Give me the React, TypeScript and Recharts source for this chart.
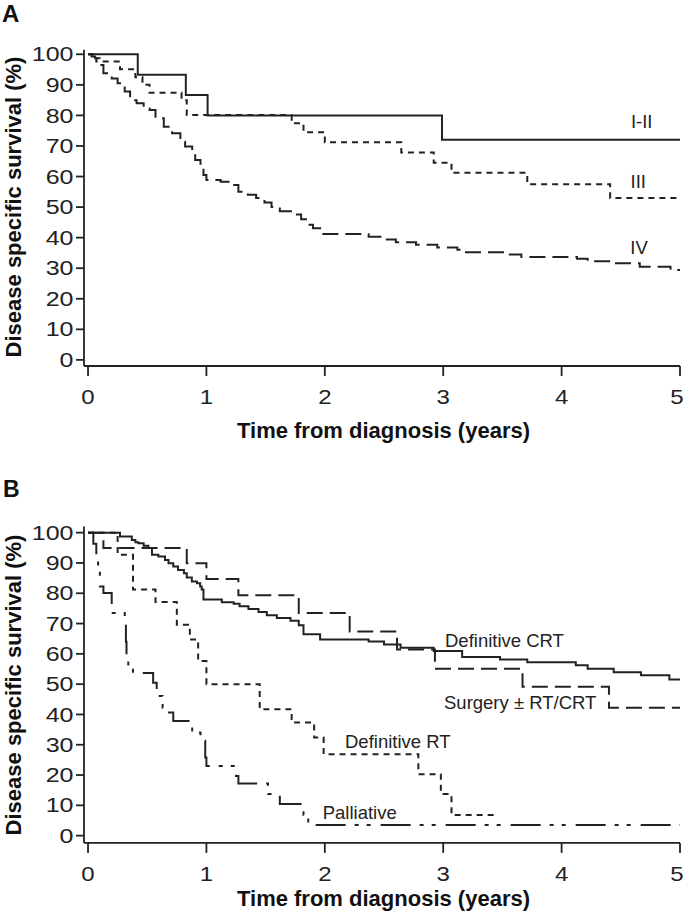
import React from 'react';
import { LineChart, Line, XAxis, YAxis } from 'recharts';

// Panel A: survival by stage (time in years, survival in %)
const stageI_II_t = [0, 0.42, 0.826, 1.01, 2.99, 5];
const stageI_II_s = [100, 93.3, 86.7, 80, 72, 72];

const stageIII_t = [0, 0.07, 0.27, 0.4, 0.46, 0.52, 0.79, 0.834, 1.72, 1.82, 2.0, 2.646, 2.92, 3.07, 3.71, 4.41, 5];
const stageIII_s = [100, 97.6, 95.1, 92.5, 90.0, 87.4, 85.0, 80.1, 77.4, 74.5, 71.2, 67.9, 64.5, 61.2, 57.5, 53.0, 53.0];

const stageIV_t = [0, 0.03, 0.06, 0.1, 0.13, 0.2, 0.25, 0.31, 0.355, 0.41, 0.47, 0.52, 0.57, 0.64, 0.71, 0.78, 0.82, 0.88, 0.905, 0.95, 0.975, 1.0, 1.12, 1.22, 1.27, 1.35, 1.42, 1.49, 1.55, 1.62, 1.74, 1.8, 1.85, 1.9, 1.97, 2.37, 2.47, 2.6, 2.77, 2.95, 3.12, 3.16, 3.52, 3.66, 4.13, 4.22, 4.43, 4.66, 4.92, 5];
const stageIV_s = [100, 99.3, 98.7, 96.5, 93.8, 92.1, 90.5, 87.8, 85.0, 84.0, 82.3, 81.8, 79.1, 76.3, 74.2, 71.4, 69.8, 68.1, 65.4, 63.2, 60.5, 58.9, 58.3, 57.2, 55.0, 54.0, 53.0, 51.5, 50.0, 48.6, 47.6, 46.0, 44.2, 43.1, 41.2, 40.3, 39.4, 38.5, 37.7, 36.8, 36.0, 35.2, 34.5, 33.7, 33.1, 32.3, 31.6, 30.5, 29.4, 29.4];

// Panel B: survival by treatment
const crt_t = [0, 0.27, 0.37, 0.4, 0.425, 0.47, 0.51, 0.54, 0.594, 0.65, 0.68, 0.72, 0.76, 0.81, 0.834, 0.877, 0.92, 0.947, 0.96, 0.975, 1.13, 1.23, 1.28, 1.355, 1.44, 1.51, 1.595, 1.71, 1.78, 1.82, 1.96, 2.37, 2.5, 2.64, 2.92, 3.16, 3.48, 3.71, 4.12, 4.22, 4.44, 4.67, 4.91, 5];
const crt_s = [100, 98.7, 97.6, 96.8, 96.5, 95.7, 94.9, 92.7, 92.1, 91.0, 89.9, 88.8, 87.7, 86.6, 85.2, 83.9, 83.3, 82.2, 81.2, 77.9, 77.0, 76.5, 75.7, 74.8, 73.8, 72.7, 71.8, 70.9, 69.4, 66.5, 64.7, 64.1, 63.1, 62.0, 60.9, 59.0, 58.1, 57.2, 56.2, 55.1, 53.9, 52.9, 51.5, 51.5];

const surgery_t = [0, 0.13, 0.834, 1.0, 1.27, 1.78, 2.21, 2.61, 2.93, 3.67, 4.4, 5];
const surgery_s = [100, 94.9, 89.9, 84.7, 79.3, 73.5, 67.4, 61.4, 55.1, 49.1, 42.2, 42.2];

const rt_t = [0, 0.25, 0.38, 0.57, 0.75, 0.86, 0.93, 1.0, 1.45, 1.72, 1.91, 1.99, 2.79, 2.98, 3.07, 3.44];
const rt_s = [100, 92.7, 81.2, 77.1, 69.6, 64.7, 57.6, 50.0, 41.7, 37.3, 32.4, 26.9, 20.3, 13.7, 6.8, 6.8];

const pall_t = [0, 0.045, 0.07, 0.085, 0.1, 0.13, 0.2, 0.31, 0.32, 0.325, 0.34, 0.38, 0.55, 0.58, 0.63, 0.65, 0.72, 0.88, 0.95, 0.99, 1.0, 1.25, 1.27, 1.52, 1.62, 1.82, 1.86, 5];
const pall_s = [100, 96.3, 92.6, 88.9, 82.2, 80.1, 73.5, 70.7, 64.0, 58.7, 55.4, 53.7, 50.5, 46.1, 42.2, 40.6, 37.8, 34.0, 31.3, 25.8, 23.0, 19.7, 17.2, 13.7, 10.4, 6.8, 3.5, 3.5];

const xTicks = [0, 1, 2, 3, 4, 5];
const yTicks = [0, 10, 20, 30, 40, 50, 60, 70, 80, 90, 100];

const toPoints = (t: number[], s: number[]) => t.map((v, i) => ({ t: v, s: s[i] }));

const INK = '#222';
const FONT = '"Liberation Sans", Arial, sans-serif';

const SHORT_DASH = '6 5';
const LONG_DASH = '16 7';
const DASH_DOT = '30 9 4 8 4 10';

// tick numbers in the original are drawn wide, so stretch them a bit
const XTick = ({ x, y, payload }: any) => (
  <text
    // keep the last label inside the page edge
    transform={`translate(${payload.value === 5 ? x - 3 : x},${y}) scale(1.2,1)`}
    textAnchor="middle"
    dy="0.71em"
    fill={INK}
    fontSize={20}
    fontFamily={FONT}
  >
    {payload.value}
  </text>
);

const YTick = ({ x, y, payload }: any) => (
  <text
    transform={`translate(${x},${y}) scale(1.25,1)`}
    textAnchor="end"
    dy="0.355em"
    fill={INK}
    fontSize={20}
    fontFamily={FONT}
  >
    {payload.value}
  </text>
);

type Series = { t: number[]; s: number[]; dash?: string };

const Panel = ({ series, top, yDomain }: { series: Series[]; top: number; yDomain: [number, number] }) => (
  <LineChart width={685} height={457} margin={{ top, right: 5, left: 0, bottom: 0 }}>
    <XAxis
      type="number"
      dataKey="t"
      domain={[-0.034, 5]}
      ticks={xTicks}
      allowDataOverflow
      height={457 - top - 316.3}
      tickSize={10}
      tickMargin={13.5}
      axisLine={{ stroke: INK, strokeWidth: 1.8 }}
      tickLine={{ stroke: INK, strokeWidth: 1.8 }}
      tick={<XTick />}
    />
    <YAxis
      type="number"
      domain={yDomain}
      ticks={yTicks}
      allowDataOverflow
      width={84}
      tickSize={8}
      tickMargin={2.5}
      axisLine={{ stroke: INK, strokeWidth: 1.8 }}
      tickLine={{ stroke: INK, strokeWidth: 1.8 }}
      tick={<YTick />}
    />
    {series.map((sr, i) => (
      <Line
        key={i}
        data={toPoints(sr.t, sr.s)}
        dataKey="s"
        type="stepAfter"
        stroke={INK}
        strokeWidth={2}
        strokeDasharray={sr.dash}
        dot={false}
        activeDot={false}
        isAnimationActive={false}
      />
    ))}
  </LineChart>
);

const App = () => {
  const labelStyle = { fontFamily: FONT, fontSize: 18.5, fill: INK };
  const titleStyle = { fontFamily: FONT, fontSize: 22, fontWeight: 'bold' as const, fill: '#111' };
  return (
    <div style={{ position: 'absolute', left: 0, top: 0, width: 685, height: 914, background: '#fff' }}>
      <div style={{ position: 'absolute', left: 0, top: 0 }}>
        <Panel
          top={49.7}
          yDomain={[-2, 101.5]}
          series={[
            { t: stageI_II_t, s: stageI_II_s },
            { t: stageIII_t, s: stageIII_s, dash: SHORT_DASH },
            { t: stageIV_t, s: stageIV_s, dash: LONG_DASH },
          ]}
        />
      </div>
      <div style={{ position: 'absolute', left: 0, top: 457 }}>
        <Panel
          top={69.6}
          yDomain={[-2.4, 102]}
          series={[
            { t: crt_t, s: crt_s },
            { t: surgery_t, s: surgery_s, dash: LONG_DASH },
            { t: rt_t, s: rt_s, dash: SHORT_DASH },
            { t: pall_t, s: pall_s, dash: DASH_DOT },
          ]}
        />
      </div>
      <svg width={685} height={914} style={{ position: 'absolute', left: 0, top: 0, pointerEvents: 'none' }}>
        <text x={2} y={22} style={{ ...titleStyle, fontSize: 24 }}>A</text>
        <text x={3} y={497} style={{ ...titleStyle, fontSize: 23 }}>B</text>

        <text x={20.5} y={207} textAnchor="middle" transform="rotate(-90 20.5 207)" style={titleStyle}>Disease  specific  survival  (%)</text>
        <text x={20.5} y={685} textAnchor="middle" transform="rotate(-90 20.5 685)" style={titleStyle}>Disease  specific  survival  (%)</text>
        <text x={383.5} y={438} textAnchor="middle" style={titleStyle}>Time  from  diagnosis  (years)</text>
        <text x={383.5} y={906} textAnchor="middle" style={titleStyle}>Time  from  diagnosis  (years)</text>

        <text x={641.7} y={128} textAnchor="middle" style={labelStyle}>I-II</text>
        <text x={638.3} y={188} textAnchor="middle" style={labelStyle}>III</text>
        <text x={639} y={254} textAnchor="middle" style={labelStyle}>IV</text>

        <text x={445} y={646.5} style={labelStyle}>Definitive CRT</text>
        <text x={444} y={709} style={labelStyle}>Surgery ± RT/CRT</text>
        <text x={345} y={748} style={labelStyle}>Definitive RT</text>
        <text x={322.7} y={819} style={labelStyle}>Palliative</text>
      </svg>
    </div>
  );
};

export default App;
